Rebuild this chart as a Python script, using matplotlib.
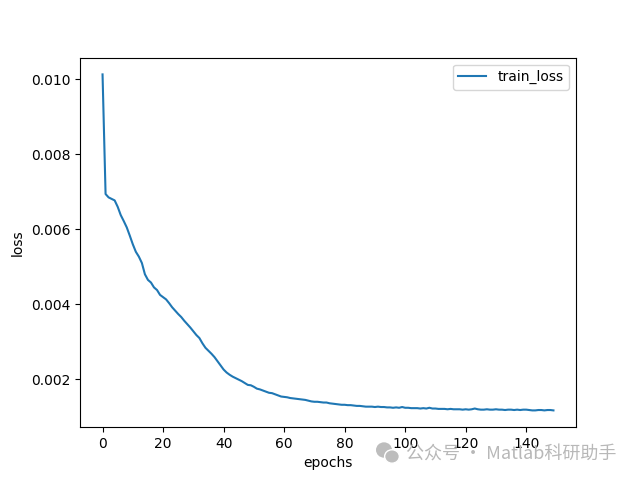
import matplotlib
matplotlib.use("Agg")
import matplotlib.pyplot as plt
from matplotlib.patches import Ellipse

train_loss = [
    0.01013, 0.00694, 0.00685, 0.00681, 0.00677, 0.00660, 0.00638, 0.00622, 0.00605, 0.00583,
    0.00560, 0.00540, 0.00527, 0.00510, 0.00480, 0.00465, 0.00458, 0.00445, 0.00438, 0.00425,
    0.00419, 0.00413, 0.00403, 0.00392, 0.00383, 0.00374, 0.00366, 0.00356, 0.00347, 0.00338,
    0.00328, 0.00318, 0.00310, 0.00296, 0.00284, 0.00276, 0.00268, 0.00259, 0.00248, 0.00237,
    0.00226, 0.00218, 0.00212, 0.00207, 0.00203, 0.00199, 0.00195, 0.00190, 0.00185, 0.00184,
    0.00180, 0.00175, 0.00173, 0.00170, 0.00167, 0.00164, 0.00163, 0.00160, 0.00157, 0.00154,
    0.00153, 0.00152, 0.00150, 0.00149, 0.00148, 0.00147, 0.00146, 0.00145, 0.00143, 0.00141,
    0.00140, 0.00140, 0.00139, 0.00138, 0.00138, 0.00136, 0.00135, 0.00134, 0.00133, 0.00132,
    0.00132, 0.00131, 0.00131, 0.00130, 0.00129, 0.00129, 0.00128, 0.00127, 0.00127, 0.00127,
    0.00126, 0.00127, 0.00126, 0.00126, 0.00125, 0.00125, 0.00124, 0.00125, 0.00124, 0.00126,
    0.00124, 0.00124, 0.00123, 0.00123, 0.00123, 0.00122, 0.00123, 0.00122, 0.00124, 0.00122,
    0.00122, 0.00121, 0.00121, 0.00121, 0.00120, 0.00121, 0.00120, 0.00120, 0.00120, 0.00119,
    0.00120, 0.00119, 0.00120, 0.00122, 0.00120, 0.00119, 0.00119, 0.00120, 0.00119, 0.00119,
    0.00120, 0.00119, 0.00119, 0.00118, 0.00119, 0.00119, 0.00118, 0.00119, 0.00118, 0.00119,
    0.00119, 0.00118, 0.00117, 0.00117, 0.00118, 0.00118, 0.00117, 0.00118, 0.00118, 0.00117,
]
epochs = list(range(len(train_loss)))

fig, ax = plt.subplots(figsize=(6.4, 4.8), dpi=100)
ax.plot(epochs, train_loss, label="train_loss")
ax.set_xlabel("epochs")
ax.set_ylabel("loss")
ax.legend(loc="upper right")

# watermark
fig.text(0.635, 0.043, "公众号 · Matlab科研助手", fontsize=13, color="#b8b8b8",
         family=["Noto Sans CJK SC", "DejaVu Sans"], zorder=10)
fig.patches.append(Ellipse((0.600, 0.0625), 0.025, 0.032, transform=fig.transFigure,
                           facecolor="#bdbdbd", edgecolor="none", zorder=5))
fig.patches.append(Ellipse((0.6125, 0.049), 0.023, 0.028, transform=fig.transFigure,
                           facecolor="#bdbdbd", edgecolor="white", linewidth=1, zorder=6))

fig.savefig("out.png", dpi=100)
